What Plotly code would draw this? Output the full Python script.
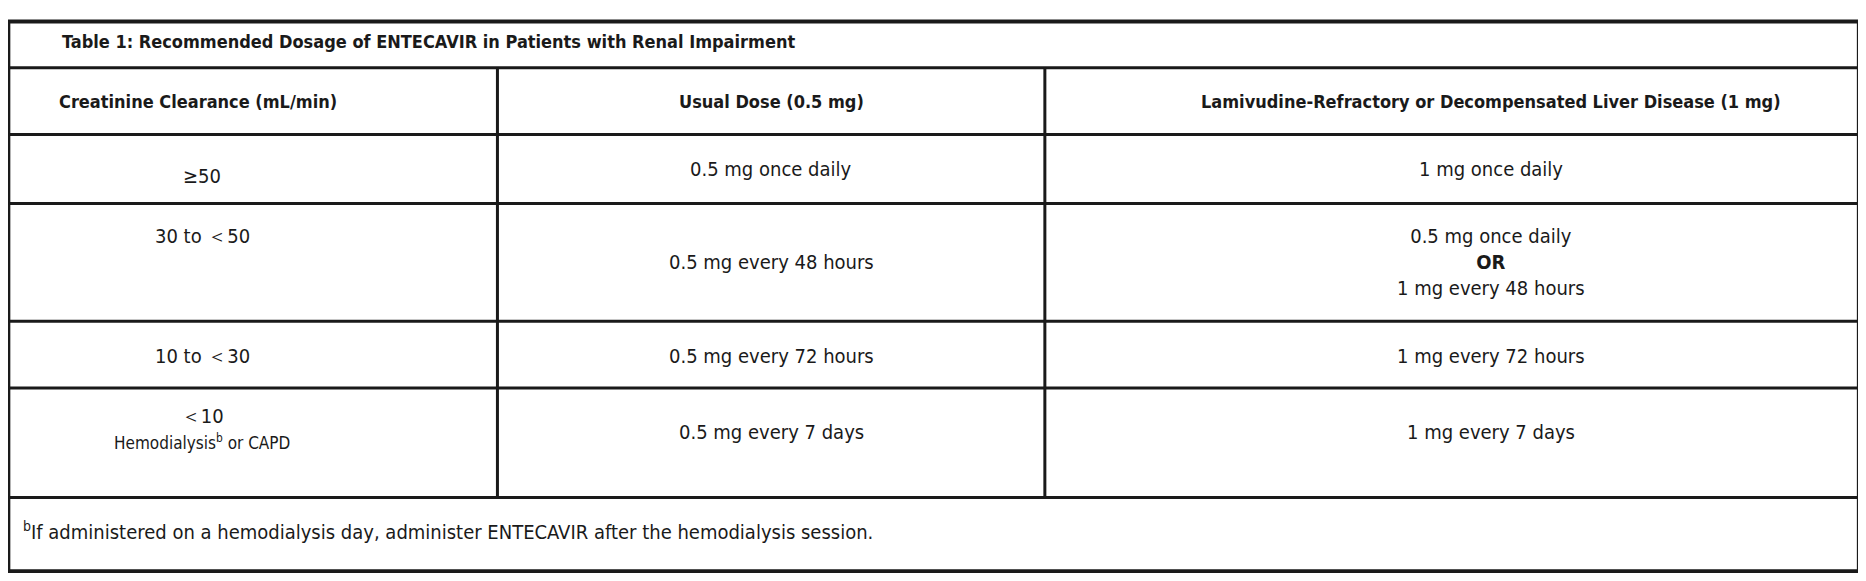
import plotly.graph_objects as go

W, H = 1850, 565   # page body has an 8 px margin in the browser
S = 1866 / 1568  # reference was read at 1568 px wide
OFF = 8

title = "Table 1: Recommended Dosage of ENTECAVIR in Patients with Renal Impairment"
headers = ["Creatinine Clearance (mL/min)", "Usual Dose (0.5 mg)",
           "Lamivudine-Refractory or Decompensated Liver Disease (1 mg)"]
clearance = ["≥50", "30 to ＜50", "10 to ＜30", "＜10<br><span style='font-size:17px'>Hemodialysis<sup>b</sup> or CAPD</span>"]
usual_dose = ["0.5 mg once daily", "0.5 mg every 48 hours", "0.5 mg every 72 hours", "0.5 mg every 7 days"]
high_dose = ["1 mg once daily", "0.5 mg once daily<br><b>OR</b><br>1 mg every 48 hours",
             "1 mg every 72 hours", "1 mg every 7 days"]
footnote = "<sup>b</sup>If administered on a hemodialysis day, administer ENTECAVIR after the hemodialysis session."

font = "Liberation Sans Narrow, DejaVu Sans Condensed, Roboto"
bold_font = "DejaVu Sans Condensed, Liberation Sans Narrow"

fig = go.Figure()
fig.update_layout(width=W, height=H, margin=dict(l=0, r=0, t=0, b=0),
                  plot_bgcolor="white", paper_bgcolor="white",
                  font=dict(family=font, size=20, color="#1a1a1a"),
                  showlegend=False)
fig.update_xaxes(range=[OFF, W + OFF], visible=False, fixedrange=True)
fig.update_yaxes(range=[H + OFF, OFF], visible=False, fixedrange=True)

line = dict(color="#1a1a1a", width=3)
left, right, top, bottom = 7 * S, 1562 * S, 18 * S, 480 * S
col1, col2 = 418 * S, 878 * S
rows = [57, 113, 171, 270, 326, 418]
fig.add_shape(type="rect", x0=left, x1=right, y0=top, y1=bottom, line=dict(color="#1a1a1a", width=4))
for r in rows:
    fig.add_shape(type="line", x0=left, x1=right, y0=r * S, y1=r * S, line=line)
for c in [col1, col2]:
    fig.add_shape(type="line", x0=c, x1=c, y0=rows[0] * S, y1=rows[-1] * S, line=line)


def txt(x, y, t, anchor="center", bold=False, size=20):
    fig.add_annotation(x=x * S, y=y * S, text=f"<b>{t}</b>" if bold else t, showarrow=False,
                       xanchor=anchor, yanchor="middle",
                       font=dict(size=size, family=bold_font if bold else font))


txt(50, 35, title, "left", True, 18)
txt(48, 85, headers[0], "left", True, 18)
txt(648, 85, headers[1], bold=True, size=18)
txt(1253, 85, headers[2], bold=True, size=18)

c1_y = [148, 198, 299, 360]
c2_y = [142, 220, 299, 363]
c3_y = [142, 220, 299, 363]
for i in range(4):
    txt(170, c1_y[i], clearance[i])
    txt(648, c2_y[i], usual_dose[i])
    txt(1253, c3_y[i], high_dose[i])

txt(18, 446, footnote, "left", size=20)

fig.write_html("out.html")
